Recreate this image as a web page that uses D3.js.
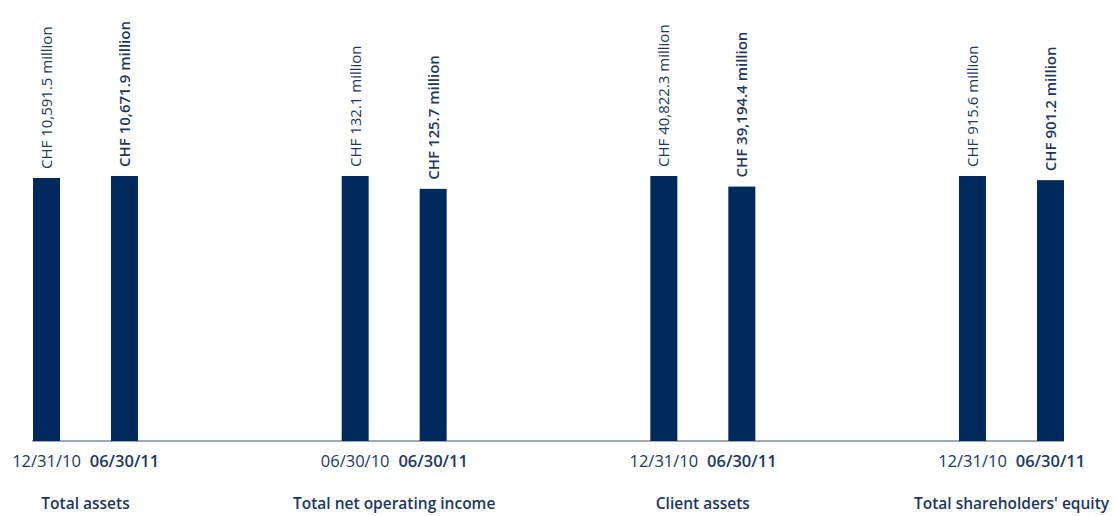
<!DOCTYPE html>
<html>
<head>
<meta charset="utf-8">
<script src="https://cdn.jsdelivr.net/npm/d3@7"></script>
<style>
  body { margin: 0; background: #fff; }
  svg { display: block; font-family: "Open Sans", sans-serif; }
</style>
</head>
<body>
<svg id="chart" width="1116" height="516"></svg>
<script>
// chart data
var groups = ["Total assets", "Total net operating income", "Client assets", "Total shareholders' equity"];
var periods = [
    ["12/31/10", "06/30/11"],
    ["06/30/10", "06/30/11"],
    ["12/31/10", "06/30/11"],
    ["12/31/10", "06/30/11"]
];
var values = [
    [10591.5, 10671.9],
    [132.1, 125.7],
    [40822.3, 39194.4],
    [915.6, 901.2]
];

var barColor = "#002a5c";
var textColor = "#1d3760";
var baseY = 441, topY = 176, barW = 27;

var svg = d3.select("#chart");

var x = d3.scalePoint().domain(groups).range([85.5, 1011.5]);
var xi = d3.scalePoint().domain([0, 1]).range([-39, 39]);
var fmt = d3.format(",.1f");

// baseline
svg.append("line")
    .attr("x1", 32).attr("x2", 1064)
    .attr("y1", baseY).attr("y2", baseY)
    .attr("stroke", "#3d5575")
    .attr("stroke-width", 1.2);

groups.forEach(function(g, gi) {
    // every group has its own scale, the larger value fills the height
    var y = d3.scaleLinear().domain([0, d3.max(values[gi])]).range([baseY, topY]);
    var grp = svg.append("g").attr("transform", "translate(" + x(g) + ",0)");
    var data = values[gi].map(function(v, i) { return {v: v, i: i, p: periods[gi][i]}; });

    grp.selectAll("rect").data(data).enter()
        .append("rect")
        .attr("x", function(d) { return xi(d.i) - barW / 2; })
        .attr("y", function(d) { return y(d.v); })
        .attr("width", barW)
        .attr("height", function(d) { return baseY - y(d.v); })
        .attr("fill", barColor);

    grp.selectAll("text.val").data(data).enter()
        .append("text")
        .attr("class", "val")
        .attr("transform", function(d) { return "translate(" + (xi(d.i) + 5.5) + "," + (y(d.v) - 9) + ") rotate(-90)"; })
        .attr("fill", textColor)
        .style("font-size", "15px")
        .style("font-weight", function(d) { return d.i === 1 ? 600 : 400; })
        .text(function(d) { return "CHF " + fmt(d.v) + " million"; });

    grp.selectAll("text.per").data(data).enter()
        .append("text")
        .attr("class", "per")
        .attr("x", function(d) { return xi(d.i); })
        .attr("y", 467)
        .attr("text-anchor", "middle")
        .attr("fill", textColor)
        .style("font-size", "16.5px")
        .style("font-weight", function(d) { return d.i === 1 ? 600 : 400; })
        .text(function(d) { return d.p; });

    grp.append("text")
        .attr("x", 0)
        .attr("y", 509)
        .attr("text-anchor", "middle")
        .attr("fill", textColor)
        .style("font-size", "15.5px")
        .style("font-weight", 600)
        .text(g);
});
</script>
</body>
</html>
